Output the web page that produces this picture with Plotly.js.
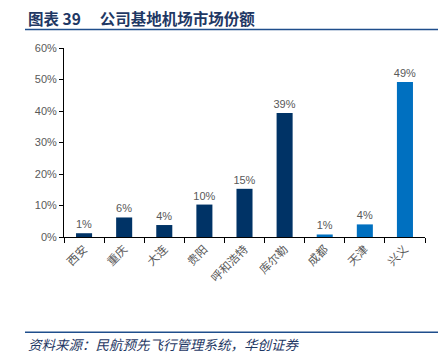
<!DOCTYPE html>
<html><head><meta charset="utf-8">
<script src="https://cdn.plot.ly/plotly-3.0.1.min.js"></script>
<style>html,body{margin:0;padding:0;background:#fff;}#c{width:443px;height:353px;}</style>
</head><body><div id="c"></div>
<script>
const categories = ['西安','重庆','大连','贵阳','呼和浩特','库尔勒','成都','天津','兴义'];
const shares = [0.012, 0.062, 0.038, 0.103, 0.153, 0.394, 0.008, 0.040, 0.492];
const barColors = ['#003366','#003366','#003366','#003366','#003366','#003366','#0070C0','#0070C0','#0070C0'];
const yTicks = [0,0.1,0.2,0.3,0.4,0.5,0.6];
const yTickText = ['0%','10%','20%','30%','40%','50%','60%'];
const titleText = '图表 39　 公司基地机场市场份额';
const sourceText = '资料来源：民航预先飞行管理系统，华创证券';

const L=64, R=425, T=47.5, B=236.7;
const px = x => (x-L)/(R-L);
const py = y => (B-y)/(B-T);

const trace = {
  type:'bar', x:categories, y:shares,
  marker:{color:barColors, line:{width:0}},
  text: shares.map(v=>Math.round(v*100)+'%'),
  textposition:'outside', cliponaxis:false, constraintext:'none',
  textfont:{family:'Liberation Sans, Arial, sans-serif', size:11, color:'#595959'},
  hoverinfo:'none'
};
const layout = {
  width:443, height:353,
  margin:{l:L, r:443-R, t:T, b:353-B},
  paper_bgcolor:'#fff', plot_bgcolor:'#fff',
  showlegend:false, bargap:0.6,
  font:{family:'Noto Sans CJK SC, sans-serif'},
  xaxis:{
    type:'category', showline:true, linecolor:'#000', linewidth:1,
    ticks:'outside', ticklen:5, tickcolor:'#000', tickson:'boundaries',
    tickangle:-45, showgrid:false, zeroline:false,
    tickfont:{family:'Noto Sans CJK SC, sans-serif', size:11.5, color:'#595959'}
  },
  yaxis:{
    range:[0,0.6], tickvals:yTicks, ticktext:yTickText,
    showline:true, linecolor:'#000', linewidth:1,
    ticks:'outside', ticklen:4, tickcolor:'#000',
    showgrid:false, zeroline:false,
    tickfont:{family:'Liberation Sans, Arial, sans-serif', size:11, color:'#595959'}
  },
  shapes:[
    {type:'line', xref:'paper', yref:'paper', x0:px(25), x1:px(438), y0:py(29), y1:py(29), line:{color:'#1F4E8C', width:1.5}},
    {type:'line', xref:'paper', yref:'paper', x0:px(25), x1:px(438), y0:py(332), y1:py(332), line:{color:'#1F4E8C', width:1.5}}
  ],
  annotations:[
    {text:'<b>'+titleText+'</b>', xref:'paper', yref:'paper', x:px(26), y:py(17), xanchor:'left', yanchor:'middle', showarrow:false,
     font:{family:'Noto Sans CJK SC, sans-serif', size:15.5, color:'#1F3864'}},
    {text:'<i>'+sourceText+'</i>', xref:'paper', yref:'paper', x:px(26), y:py(343.5), xanchor:'left', yanchor:'middle', showarrow:false,
     font:{family:'Noto Sans CJK SC, sans-serif', size:13.5, color:'#1F3864'}}
  ]
};
Plotly.newPlot('c',[trace],layout,{staticPlot:true,displayModeBar:false});
</script></body></html>
